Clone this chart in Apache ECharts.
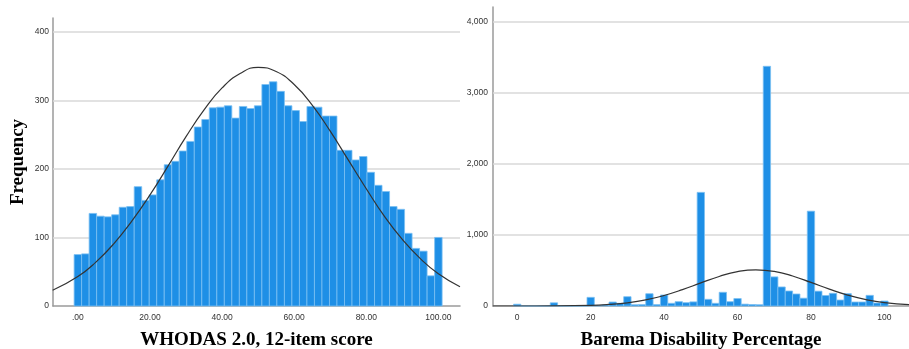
<!DOCTYPE html>
<html>
<head>
<meta charset="utf-8">
<script src="https://cdn.jsdelivr.net/npm/echarts@6/dist/echarts.min.js"></script>
<style>
html,body{margin:0;padding:0;background:#fff;}
#c{width:909px;height:349px;}
</style>
</head>
<body>
<div id="c"></div>
<script>
// ---- Left histogram: WHODAS 2.0, 12-item score ----
const whoBinWidth = 100 / 48;
const whoCounts = [75, 76, 135, 131, 130, 133, 144, 145, 174, 154, 162, 184, 206, 211, 226, 240,
  261, 272, 289, 290, 292, 274, 291, 288, 292, 323, 327, 313, 292, 285, 269, 291, 290, 277, 277,
  227, 227, 213, 218, 195, 176, 167, 145, 141, 106, 84, 80, 44, 100];
const whoCurveX = [-7, 0, 5, 10, 15, 20, 25, 30, 35, 40, 45, 50, 55, 60, 65, 70, 75, 80, 85, 90, 95, 100, 106];
const whoCurveY = [23, 43, 64, 91, 124, 162, 204, 247, 286, 318, 339, 348, 342, 323, 293, 255, 213, 171, 131, 97, 69, 47, 28];
const whoXTicks = [0, 20, 40, 60, 80, 100];
const whoYTicks = [0, 100, 200, 300, 400];

// ---- Right histogram: Barema Disability Percentage ----
const barBinWidth = 2;
const baremaCenters = [0,2,4,6,8,10,12,14,16,18,20,22,24,26,28,30,32,34,36,38,40,42,44,46,48,50,
  52,54,56,58,60,62,64,66,68,70,72,74,76,78,80,82,84,86,88,90,92,94,96,98,100];
const baremaCounts = [25,0,0,0,0,45,0,0,0,0,122,8,14,56,38,131,18,20,173,20,155,38,61,47,58,1600,
  94,38,193,61,105,26,21,18,3375,410,268,211,169,110,1335,209,148,179,84,174,56,56,150,42,70];
const barCurveX = [-6.6, 0, 10, 20, 25, 30, 35, 40, 45, 50, 55, 60, 65, 70, 75, 80, 85, 90, 95, 100, 106.7];
const barCurveY = [0, 0.1, 1.3, 9, 22, 45, 86, 148, 230, 325, 416, 484, 510, 488, 423, 332, 237, 153, 90, 48, 18];
const barXTicks = [0, 20, 40, 60, 80, 100];
const barYTicks = [0, 1000, 2000, 3000, 4000];

const BAR_FILL = '#1e8fe6';
const BAR_EDGE = '#7cc0f2';
const AXIS_COL = '#9a9a9a';
const GRID_COL = '#d9d9d9';
const LABEL_COL = '#333';

function histData(centers, counts, w) {
  return counts.map((c, i) => [centers[i] - w / 2, centers[i] + w / 2, c]);
}
const whoCenters = whoCounts.map((_, i) => i * whoBinWidth);

function renderBar(params, api) {
  const p0 = api.coord([api.value(0), 0]);
  const p1 = api.coord([api.value(1), api.value(2)]);
  return {
    type: 'rect',
    shape: { x: p0[0], y: p1[1], width: p1[0] - p0[0], height: p0[1] - p1[1] },
    style: { fill: BAR_FILL, stroke: BAR_EDGE, lineWidth: 0.8 }
  };
}

function gridSeries(xi, vals) {
  return {
    type: 'line', xAxisIndex: xi, yAxisIndex: xi, data: [], z: 1, zlevel: 0, silent: true,
    markLine: {
      silent: true, symbol: 'none', animation: false, z: 1,
      label: { show: false },
      lineStyle: { color: GRID_COL, width: 1.5, type: 'solid' },
      data: vals.filter(v => v > 0).map(v => ({ yAxis: v }))
    }
  };
}

const titleStyle = { fontFamily: 'Liberation Serif', fontWeight: 'bold', fontSize: 19, color: '#000' };
const tickStyle = { color: LABEL_COL, fontSize: 8.5, fontFamily: 'Arial' };
const axisLine = { show: true, onZero: false, lineStyle: { color: AXIS_COL, width: 1.5 } };

const chart = echarts.init(document.getElementById('c'), null, { renderer: 'canvas' });
chart.setOption({
  animation: false,
  backgroundColor: '#fff',
  grid: [
    { left: 53, right: 449, top: 18, bottom: 43, containLabel: false, outerBoundsMode: 'none' },
    { left: 493, right: 0, top: 7, bottom: 43, containLabel: false, outerBoundsMode: 'none' }
  ],
  xAxis: [
    {
      gridIndex: 0, type: 'value', min: -6.9, max: 106,
      axisLine: axisLine, axisTick: { show: false }, splitLine: { show: false },
      axisLabel: Object.assign({ customValues: whoXTicks, margin: 7,
        formatter: v => (v === 0 ? '.00' : v.toFixed(2)) }, tickStyle),
      name: 'WHODAS 2.0, 12-item score', nameLocation: 'middle', nameGap: 25,
      nameTextStyle: titleStyle
    },
    {
      gridIndex: 1, type: 'value', min: -6.6, max: 106.7,
      axisLine: axisLine, axisTick: { show: false }, splitLine: { show: false },
      axisLabel: Object.assign({ customValues: barXTicks, margin: 7 }, tickStyle),
      name: 'Barema Disability Percentage', nameLocation: 'middle', nameGap: 25,
      nameTextStyle: titleStyle
    }
  ],
  yAxis: [
    {
      gridIndex: 0, type: 'value', min: 0, max: 420,
      axisLine: axisLine, axisTick: { show: false }, splitLine: { show: false },
      axisLabel: Object.assign({ customValues: whoYTicks, margin: 4 }, tickStyle),
      name: 'Frequency', nameLocation: 'middle', nameGap: 25, nameRotate: 90,
      nameTextStyle: titleStyle
    },
    {
      gridIndex: 1, type: 'value', min: 0, max: 4210,
      axisLine: axisLine, axisTick: { show: false }, splitLine: { show: false },
      axisLabel: Object.assign({ customValues: barYTicks, margin: 5,
        formatter: v => v.toLocaleString('en-US') }, tickStyle)
    }
  ],
  series: [
    gridSeries(0, whoYTicks),
    gridSeries(1, barYTicks),
    {
      type: 'custom', xAxisIndex: 0, yAxisIndex: 0, renderItem: renderBar,
      encode: { x: [0, 1], y: 2 }, zlevel: 1,
      data: histData(whoCenters, whoCounts, whoBinWidth), z: 3
    },
    {
      type: 'line', xAxisIndex: 0, yAxisIndex: 0, smooth: true, symbol: 'none', zlevel: 1,
      lineStyle: { color: '#333', width: 1.2 },
      data: whoCurveX.map((x, i) => [x, whoCurveY[i]]), z: 5
    },
    {
      type: 'custom', xAxisIndex: 1, yAxisIndex: 1, renderItem: renderBar,
      encode: { x: [0, 1], y: 2 }, zlevel: 1,
      data: histData(baremaCenters, baremaCounts, barBinWidth), z: 3
    },
    {
      type: 'line', xAxisIndex: 1, yAxisIndex: 1, smooth: true, symbol: 'none', zlevel: 1,
      lineStyle: { color: '#333', width: 1.2 },
      data: barCurveX.map((x, i) => [x, barCurveY[i]]), z: 5
    }
  ]
});
</script>
</body>
</html>
